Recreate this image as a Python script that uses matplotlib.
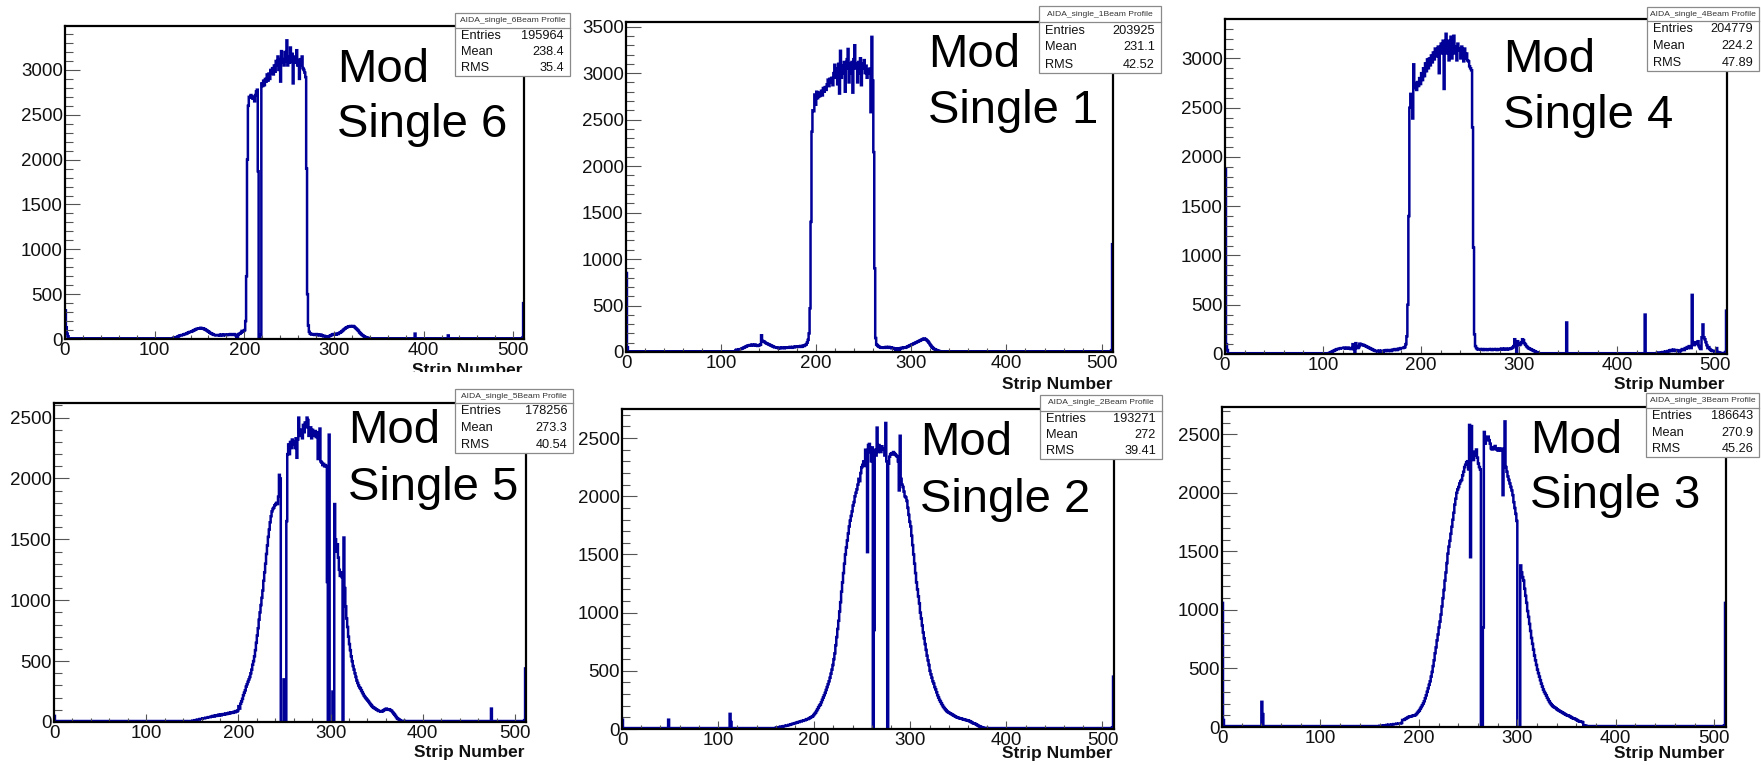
import numpy as np
import matplotlib
matplotlib.use("Agg")
import matplotlib.pyplot as plt
from matplotlib.patches import Rectangle
from matplotlib.lines import Line2D
from matplotlib.transforms import Bbox, TransformedBbox

W, H, DPI = 1761, 765, 100
plt.rcParams['font.family'] = ['Liberation Sans', 'DejaVu Sans']

# ------------------------------------------------------------------ data
N_STRIPS = 512
X_LABEL = "Strip Number"
MODULE_LABELS = ["Single 6", "Single 1", "Single 4", "Single 5", "Single 2", "Single 3"]
HIST_NAMES = ["AIDA_single_6Beam Profile", "AIDA_single_1Beam Profile", "AIDA_single_4Beam Profile",
              "AIDA_single_5Beam Profile", "AIDA_single_2Beam Profile", "AIDA_single_3Beam Profile"]
ENTRIES = ["195964", "203925", "204779", "178256", "193271", "186643"]
MEANS = ["238.4", "231.1", "224.2", "273.3", "272", "270.9"]
RMS = ["35.4", "42.52", "47.89", "40.54", "39.41", "45.26"]
Y_MAX = [3490, 3550, 3400, 2620, 2750, 2733]

# Single 6
S6_BASE = 8
S6_START = 120
S6_CORE = [
    10, 15, 15, 20, 20, 25, 30, 35, 40, 40,
    45, 45, 50, 55, 55, 60, 65, 70, 75, 80,
    80, 85, 90, 95, 100, 105, 110, 115, 115, 120,
    120, 125, 120, 115, 120, 110, 105, 100, 95, 85,
    80, 70, 65, 60, 55, 50, 45, 45, 40, 40,
    40, 45, 40, 45, 50, 45, 40, 45, 50, 45,
    45, 50, 45, 50, 55, 50, 45, 50, 55, 50,
    40, 20, 10, 50, 60, 60, 70, 90, 80, 90,
    100, 200, 700, 2000, 2600, 2700, 2690, 2720, 2700, 2680,
    2700, 2650, 2720, 2760, 2780, 1870, 0, 0, 50, 2850,
    2820, 2880, 2830, 2900, 2870, 2950, 2880, 2960, 2900, 3000,
    2960, 3020, 2950, 3050, 2980, 3100, 3050, 3150, 3000, 3120,
    2870, 3210, 3080, 3120, 3050, 3200, 3100, 3330, 3050, 3150,
    3080, 3250, 3100, 3180, 2850, 3150, 3080, 3120, 3220, 3050,
    3100, 2900, 3120, 3050, 3150, 3020, 3000, 2970, 2920, 1900,
    500, 150, 80, 60, 55, 50, 55, 50, 45, 50,
    55, 45, 50, 40, 45, 50, 40, 35, 30, 35,
    30, 25, 30, 25, 30, 35, 40, 45, 50, 55,
    50, 55, 50, 60, 55, 65, 70, 75, 85, 90,
    100, 110, 115, 125, 130, 135, 140, 140, 145, 140,
    140, 145, 140, 130, 120, 110, 100, 90, 75, 65,
    55, 45, 40, 30, 25, 20, 15, 15, 10, 10,
]
S6_SPIKES = {0: 320, 1: 130, 2: 60, 3: 30, 390: 60, 427: 40, 510: 15, 511: 400}

# Single 1
S1_BASE = 8
S1_START = 115
S1_CORE = [
    20, 25, 25, 30, 30,
    30, 35, 40, 45, 50, 55, 60, 65, 70, 70,
    75, 70, 80, 75, 70, 80, 75, 70, 65, 70,
    75, 80, 180, 120, 115, 110, 100, 95, 90, 85,
    80, 75, 70, 65, 60, 55, 50, 50, 45, 45,
    40, 45, 40, 45, 50, 45, 40, 50, 45, 50,
    45, 50, 55, 50, 45, 55, 50, 55, 60, 55,
    60, 55, 60, 65, 55, 60, 70, 65, 75, 80,
    100, 130, 200, 470, 1400, 2370, 2600, 2590, 2770, 2660,
    2800, 2730, 2790, 2750, 2780, 2810, 2760, 2840, 2800, 2850,
    2820, 2880, 2930, 2860, 2940, 2900, 2950, 2870, 3000, 3090,
    2950, 3050, 2880, 3100, 2780, 3240, 2950, 3080, 3000, 3120,
    2800, 3050, 3150, 3260, 2900, 3100, 3000, 3120, 2790, 3150,
    3300, 3050, 3100, 2900, 3120, 3000, 3160, 2870, 3100, 3050,
    3140, 3000, 3080, 2950, 3040, 3000, 3050, 2580, 3390, 2920,
    2150, 900, 150, 80, 70, 60, 55, 50, 45, 45,
    50, 45, 50, 55, 45, 50, 55, 45, 50, 40,
    45, 40, 35, 0, 40, 35, 30, 0, 40, 45,
    40, 45, 50, 45, 50, 55, 60, 65, 70, 75,
    80, 85, 90, 95, 100, 105, 110, 115, 120, 125,
    130, 135, 140, 145, 140, 135, 125, 115, 100, 85,
    70, 55, 45, 35, 30, 25, 20, 15, 12, 10,
]
S1_SPIKES = {0: 850, 1: 50, 510: 20, 511: 1160}

# Single 4
S4_BASE = 8
S4_START = 105
S4_CORE = [
    5, 10, 15, 20, 25,
    30, 35, 40, 45, 50, 50, 55, 55, 60, 60,
    60, 65, 60, 55, 60, 65, 60, 55, 50, 60,
    100, 50, 0, 110, 80, 60, 70, 105, 100, 90,
    95, 90, 85, 80, 75, 70, 65, 60, 55, 50,
    45, 40, 35, 30, 30, 25, 30, 35, 30, 25,
    30, 25, 35, 30, 40, 35, 30, 40, 35, 30,
    40, 45, 40, 50, 45, 40, 50, 55, 50, 60,
    60, 60, 65, 70, 100, 180, 500, 1400, 2500, 2640,
    2600, 2390, 2940, 2700, 2750, 2680, 2760, 2720, 2800, 2740,
    2850, 2780, 2900, 2820, 2950, 2870, 2990, 2900, 3000, 2930,
    3030, 2960, 3060, 2990, 3100, 3020, 3080, 3120, 2850, 3100,
    3150, 3050, 3180, 2690, 3100, 3250, 3050, 3180, 2980, 3100,
    3220, 3000, 3150, 3230, 3050, 3120, 2980, 3150, 3080, 3100,
    3000, 3120, 3090, 2970, 3100, 3000, 3050, 2980, 2970, 2920,
    2900, 2880, 2300, 1080, 200, 80, 60, 50, 45, 50,
    50, 45, 50, 40, 45, 50, 45, 40, 45, 50,
    45, 50, 40, 45, 50, 45, 50, 40, 45, 50,
    45, 50, 55, 50, 45, 55, 50, 45, 50, 55,
    50, 55, 60, 65, 80, 150, 100, 0, 130, 110,
    90, 100, 120, 150, 140, 110, 95, 80, 70, 60,
    55, 50, 45, 40, 35, 30, 25, 20, 15, 12,
]
S4_TAIL_START = 440
S4_TAIL = [
    10, 10, 15, 10, 10, 15, 20, 15, 20, 25,
    20, 30, 25, 35, 40, 30, 40, 45, 35, 30,
    40, 35, 30, 25, 30, 40, 50, 45, 40, 60,
    55, 70, 60, 80, 70, 60, 600, 100, 90, 120,
    110, 100, 130, 80, 60, 50, 170, 300, 170, 150,
    120, 90, 60, 70, 50, 40, 35, 30, 30, 25,
    30, 60, 20, 15, 15, 10, 10, 10, 10, 10,
    20, 440,
]
S4_SPIKES = {0: 1880, 1: 100, 2: 40, 348: 320, 428: 400}

# Single 5
S5_BASE = 8
S5_START = 150
S5_CORE = [
    10, 10, 15, 15, 15, 20, 20, 20, 25, 25,
    25, 30, 30, 30, 35, 35, 35, 40, 40, 40,
    45, 45, 50, 45, 50, 55, 50, 55, 60, 55,
    60, 55, 60, 65, 60, 65, 70, 65, 70, 75,
    70, 75, 80, 75, 80, 85, 80, 90, 85, 95,
    130, 110, 150, 170, 190, 220, 240, 260, 290, 310,
    330, 350, 370, 400, 430, 470, 500, 540, 590, 650,
    710, 770, 840, 900, 960, 1020, 1080, 1160, 1230, 1300,
    1380, 1450, 1520, 1580, 1640, 1690, 1730, 1750, 1760, 1780,
    1790, 1800, 1790, 1850, 2030, 2000, 0, 0, 0, 350,
    0, 0, 1650, 2200, 2280, 2200, 2300, 2250, 2320, 2280,
    2300, 2250, 2330, 2170, 2320, 2500, 2380, 2350, 2400, 2330,
    2440, 2380, 2460, 2420, 2500, 2480, 2350, 2380, 2420, 2330,
    2400, 2350, 2380, 2390, 2340, 2380, 2160, 2320, 2410, 2140,
    2130, 2110, 2120, 2100, 2110, 2100, 1150, 0, 2360, 0,
    0, 0, 250, 0, 1790, 1500, 1400, 1460, 1350, 1250,
    1200, 1230, 1190, 0, 1515, 1100, 950, 850, 780, 700,
    640, 590, 540, 500, 460, 430, 400, 370, 340, 320,
    300, 285, 275, 260, 245, 230, 215, 205, 195, 185,
    175, 165, 155, 145, 135, 125, 120, 115, 110, 105,
    100, 95, 90, 90, 85, 85, 90, 95, 100, 105,
    110, 105, 100, 105, 100, 95, 90, 80, 70, 60,
    50, 40, 30, 25, 20, 15, 10, 10, 10, 10,
]
S5_SPIKES = {0: 50, 474: 110, 510: 15, 511: 440}

# Single 2
S2_BASE = 8
S2_START = 160
S2_CORE = [
    10, 12, 15, 15, 18, 20, 20, 22, 25, 25,
    28, 30, 30, 35, 35, 40, 40, 45, 45, 50,
    50, 55, 55, 60, 60, 65, 65, 70, 70, 75,
    75, 80, 85, 85, 90, 95, 100, 105, 110, 120,
    130, 140, 155, 170, 185, 200, 210, 230, 250, 270,
    290, 310, 335, 360, 385, 410, 440, 475, 510, 550,
    600, 650, 720, 790, 860, 930, 1010, 1090, 1180, 1260,
    1340, 1420, 1500, 1560, 1620, 1680, 1740, 1790, 1830, 1870,
    1920, 1950, 2000, 2030, 2060, 2100, 2150, 2130, 2200, 2250,
    2270, 2300, 2260, 2400, 2350, 1520, 2440, 2450, 2380, 2300,
    2420, 0, 850, 2400, 2350, 2590, 2380, 2440, 2420, 2380,
    2430, 2410, 2400, 2350, 2630, 2300, 0, 2280, 2340, 2360,
    2370, 2360, 2380, 2370, 2360, 2350, 2340, 2300, 2050, 2520,
    2150, 2100, 2080, 2040, 2000, 1990, 1960, 1900, 1840, 1780,
    1740, 1660, 1580, 1500, 1420, 1340, 1260, 1200, 1140, 1080,
    1000, 950, 890, 830, 780, 730, 680, 630, 590, 550,
    500, 470, 440, 410, 390, 360, 340, 315, 290, 270,
    250, 235, 220, 205, 190, 180, 170, 160, 150, 145,
    140, 135, 130, 125, 120, 115, 110, 105, 100, 98,
    95, 92, 90, 88, 85, 82, 80, 78, 76, 75,
    72, 68, 65, 60, 55, 50, 48, 45, 40, 35,
    30, 25, 22, 18, 15, 12, 10, 10, 10, 10,
]
S2_SPIKES = {0: 80, 48: 80, 112: 130, 113: 60, 510: 15, 511: 450}

# Single 3
S3_BASE = 8
S3_START = 160
S3_CORE = [
    10, 10, 12, 12, 15, 15, 15, 18, 18, 20,
    20, 20, 22, 22, 25, 25, 25, 28, 28, 30,
    30, 30, 35, 60, 60, 65, 70, 75, 80, 85,
    88, 90, 92, 95, 98, 100, 102, 110, 120, 130,
    140, 155, 170, 185, 200, 220, 245, 270, 300, 330,
    360, 390, 430, 470, 520, 570, 630, 680, 740, 790,
    850, 900, 960, 1030, 1100, 1170, 1250, 1320, 1400, 1480,
    1540, 1590, 1650, 1710, 1770, 1830, 1900, 1950, 2000, 2030,
    2050, 2080, 2100, 2110, 2150, 2180, 2220, 2240, 2260, 2270,
    2200, 2580, 1450, 2570, 2350, 2280, 2320, 2350, 2370, 2300,
    2250, 2220, 2200, 0, 0, 850, 2520, 2420, 2450, 2480,
    2480, 2450, 2420, 2380, 2370, 2390, 2380, 2400, 2370, 2380,
    2360, 2370, 2380, 2360, 2370, 1980, 2380, 2610, 2220, 2180,
    2140, 2110, 2080, 2050, 2020, 1980, 1920, 1870, 1820, 1760,
    0, 0, 0, 1380, 1320, 1280, 1250, 1180, 1120, 1060,
    990, 940, 880, 820, 760, 710, 660, 610, 570, 530,
    490, 460, 430, 400, 370, 345, 320, 300, 285, 270,
    250, 235, 220, 205, 195, 185, 175, 170, 165, 160,
    150, 145, 140, 135, 130, 125, 120, 115, 110, 105,
    100, 98, 95, 90, 85, 80, 75, 72, 70, 65,
    60, 55, 50, 48, 45, 45, 40, 15, 10, 12,
]
S3_SPIKES = {0: 1060, 1: 60, 40: 215, 41: 110, 510: 15, 511: 1060}

# ------------------------------------------------------------------ build histograms
def build(base, start, core, spikes, tail_start=None, tail=None):
    h = np.full(N_STRIPS, float(base))
    h[start:start + len(core)] = core
    if tail is not None:
        h[tail_start:tail_start + len(tail)] = tail
    for k, v in spikes.items():
        h[k] = v
    return h

HISTS = [
    build(S6_BASE, S6_START, S6_CORE, S6_SPIKES),
    build(S1_BASE, S1_START, S1_CORE, S1_SPIKES),
    build(S4_BASE, S4_START, S4_CORE, S4_SPIKES, S4_TAIL_START, S4_TAIL),
    build(S5_BASE, S5_START, S5_CORE, S5_SPIKES),
    build(S2_BASE, S2_START, S2_CORE, S2_SPIKES),
    build(S3_BASE, S3_START, S3_CORE, S3_SPIKES),
]

# ------------------------------------------------------------------ layout (pixels)
AX_BOX = [(65, 524, 26, 339), (626, 1113, 22, 352), (1225, 1727, 19, 354),
          (54, 526, 403, 722), (622, 1114, 409, 729), (1222, 1726, 407, 727)]
MOD_POS = [(337, 82, 137), (928, 67, 123), (1503, 72, 128),
           (348, 443, 500), (920, 455, 512), (1530, 453, 508)]
STAT_BOX = [(455, 570, 13, 28, 76), (1039, 1161, 6, 22, 73), (1647, 1759, 7, 21, 71),
            (455, 573, 389, 403, 453), (1040, 1162, 395, 411, 459), (1646, 1759, 393, 408, 457)]
XLAB_POS = [(522, 363, 372), (1112, 377, 392), (1725, 377, 392),
            (524, 745, 766), (1112, 746, 766), (1724, 746, 766)]

LINE_COLOR = "#000099"
TXT = "#111111"

def fx(x):
    return x / W

def fy(y):
    return 1 - y / H

fig = plt.figure(figsize=(W / DPI, H / DPI), dpi=DPI)
fig.patch.set_facecolor("white")

for i in range(6):
    l, r, t, b = AX_BOX[i]
    ax = fig.add_axes([fx(l), fy(b), (r - l) / W, (b - t) / H])
    ax.stairs(HISTS[i], np.arange(N_STRIPS + 1), color=LINE_COLOR, lw=1.8, baseline=0)
    ax.set_xlim(0, N_STRIPS)
    ax.set_ylim(0, Y_MAX[i])
    ax.set_xticks(np.arange(0, 501, 100))
    ax.set_xticks(np.arange(0, 512, 20), minor=True)
    ax.set_yticks(np.arange(0, Y_MAX[i], 500))
    ax.set_yticks(np.arange(0, Y_MAX[i], 100), minor=True)
    for sp in ax.spines.values():
        sp.set_linewidth(1.6)
        sp.set_color("black")
    ax.tick_params(axis="both", which="both", direction="in", top=False, right=False,
                   color="#555555", width=0.8, labelsize=13.5, labelcolor=TXT)
    ax.tick_params(axis="y", which="major", length=10.8, pad=1.5)
    ax.tick_params(axis="y", which="minor", length=5.4)
    ax.tick_params(axis="x", which="major", length=5.8, pad=2.5)
    ax.tick_params(axis="x", which="minor", length=2.9)

    # module label
    mx, b1, b2 = MOD_POS[i]
    fig.text(fx(mx), fy(b1), "Mod", fontsize=34, va="baseline", ha="left", color="black", zorder=4)
    fig.text(fx(mx), fy(b2), MODULE_LABELS[i], fontsize=34, va="baseline", ha="left", color="black", zorder=4)

    # stats box
    x0, x1, y0, yh, y1 = STAT_BOX[i]
    fig.add_artist(Rectangle((fx(x0), fy(y1)), (x1 - x0) / W, (y1 - y0) / H,
                             transform=fig.transFigure, facecolor="white",
                             edgecolor="#8a8a8a", lw=0.9, zorder=5))
    fig.add_artist(Line2D([fx(x0), fx(x1)], [fy(yh), fy(yh)], transform=fig.transFigure,
                          color="#8a8a8a", lw=0.9, zorder=6))
    fig.text(fx((x0 + x1) / 2), fy((y0 + yh) / 2), HIST_NAMES[i], fontsize=6.1, ha="center",
             va="center", color="#333333", zorder=7)
    rows = [("Entries", ENTRIES[i]), ("Mean", MEANS[i]), ("RMS", RMS[i])]
    for k, (name, val) in enumerate(rows):
        yc = yh + (y1 - yh) * (k + 0.5) / 3
        fig.text(fx(x0 + 6), fy(yc), name, fontsize=9.2, ha="left", va="center", color=TXT, zorder=7)
        fig.text(fx(x1 - 6), fy(yc), val, fontsize=9.2, ha="right", va="center", color=TXT, zorder=7)

    # x axis title (top-row ones clipped like the pasted screenshots)
    xr, yt, yclip = XLAB_POS[i]
    tx = fig.text(fx(xr), fy(yt), X_LABEL, fontsize=12.5, fontweight="bold", ha="right",
                  va="top", color=TXT, zorder=4)
    tx.set_clip_box(TransformedBbox(Bbox([[0, fy(yclip)], [1, 1]]), fig.transFigure))
    tx.set_clip_on(True)

fig.savefig("out.png", dpi=DPI, facecolor="white")
